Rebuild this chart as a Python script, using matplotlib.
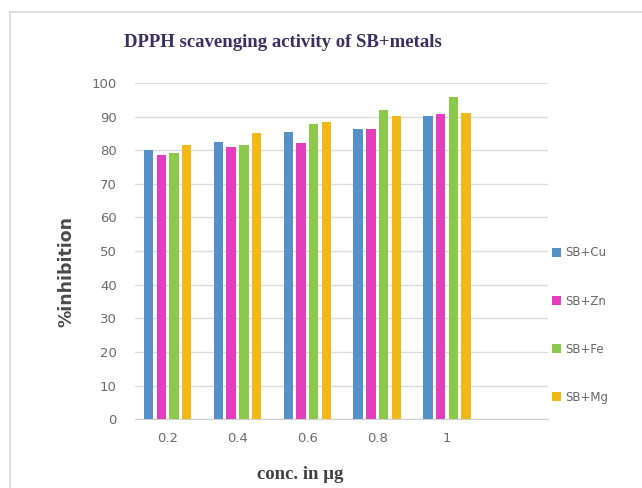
import matplotlib
matplotlib.use("Agg")
import matplotlib.pyplot as plt
from matplotlib.lines import Line2D
import numpy as np

# values
concs = ["0.2", "0.4", "0.6", "0.8", "1"]
series = ["SB+Cu", "SB+Zn", "SB+Fe", "SB+Mg"]
cu = [80.2, 82.5, 85.4, 86.3, 90.1]
zn = [78.7, 81.0, 82.0, 86.3, 90.7]
fe = [79.1, 81.5, 87.8, 92.1, 95.8]
mg = [81.6, 85.0, 88.4, 90.2, 91.2]
colors = ["#5590c8", "#e63cbe", "#8cc94a", "#f2b916"]

fig = plt.figure(figsize=(6.42, 4.88), dpi=100)
ax = fig.add_axes([0.210, 0.141, 0.644, 0.689])

x = np.arange(len(concs))
step, width = 0.182, 0.135
bars = []
for i, (vals, c) in enumerate(zip([cu, zn, fe, mg], colors)):
    b = ax.bar(x + (i - 1.5) * step, vals, width=width, color=c, zorder=3, label=series[i])
    bars.append(b)

ax.set_ylim(0, 100)
ax.set_xlim(-0.47, 5.45)
ax.set_yticks(range(0, 101, 10))
ax.set_xticks(x)
ax.set_xticklabels(concs)
ax.tick_params(axis="both", length=0, labelsize=9.5, colors="#6b6b6b")
ax.tick_params(axis="y", pad=13)
ax.tick_params(axis="x", pad=9)
ax.grid(axis="y", color="#dcdcdc", lw=1.0, zorder=0)
for s in ["top", "right", "left"]:
    ax.spines[s].set_visible(False)
ax.spines["bottom"].set_color("#d0d0d0")

fig.text(0.44, 0.912, "DPPH scavenging activity of SB+metals", ha="center", va="center",
         family="Liberation Serif", fontweight="bold", fontsize=13.5, color="#3a2f62")
fig.text(0.467, 0.027, "conc. in μg", ha="center", va="center",
         family="Liberation Serif", fontweight="bold", fontsize=13.5, color="#404040")
fig.text(0.104, 0.443, "%inhibition", ha="center", va="center", rotation=90,
         fontweight="bold", fontsize=12.5, color="#4a4a4a")

fig.legend(handles=bars, labels=series, loc="upper left", bbox_to_anchor=(0.843, 0.517),
           frameon=False, fontsize=8.5, labelcolor="#666666", handlelength=0.75,
           handleheight=0.75, handletextpad=0.35, labelspacing=2.98)

# light chart frame
fig.add_artist(Line2D([0.015, 1.0], [0.975, 0.975], transform=fig.transFigure, color="#d8d8d8", lw=1.2))
fig.add_artist(Line2D([0.015, 0.015], [0.0, 0.975], transform=fig.transFigure, color="#d8d8d8", lw=1.2))

fig.savefig("out.png", dpi=100)
